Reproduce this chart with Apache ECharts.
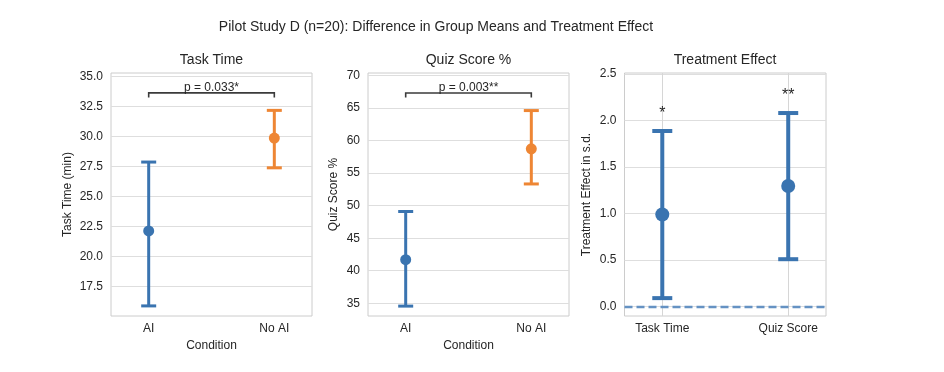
<!DOCTYPE html>
<html>
<head>
<meta charset="utf-8">
<script src="https://cdn.jsdelivr.net/npm/echarts@6/dist/echarts.min.js"></script>
<style>html,body{margin:0;padding:0;background:#fff}#c{width:944px;height:372px}</style>
</head>
<body>
<div id="c"></div>
<script>
// ---- data ----
const suptitle = 'Pilot Study D (n=20): Difference in Group Means and Treatment Effect';
const groupCats = ['AI', 'No AI'];
const groupColors = ['#3a74b0', '#ee8634'];

const taskMean = [22.14, 29.87];
const taskLow  = [15.90, 27.39];
const taskHigh = [27.87, 32.17];
const taskP = 'p = 0.033*';
const taskTicks = [17.5, 20.0, 22.5, 25.0, 27.5, 30.0, 32.5, 35.0];

const quizMean = [41.70, 58.72];
const quizLow  = [34.57, 53.33];
const quizHigh = [49.10, 64.60];
const quizP = 'p = 0.003**';
const quizTicks = [35, 40, 45, 50, 55, 60, 65, 70];

const effectCats = ['Task Time', 'Quiz Score'];
const effectMean = [0.99, 1.296];
const effectLow  = [0.092, 0.51];
const effectHigh = [1.887, 2.08];
const effectStars = ['*', '**'];
const effectTicks = [0.0, 0.5, 1.0, 1.5, 2.0, 2.5];

// ---- styling helpers ----
const FONT = "'Liberation Sans', Arial, sans-serif";
const TXT = '#262626';
const effectColor = '#3a74b0';

const grids = [
  {left: 111, top: 73, width: 201, height: 243},
  {left: 368, top: 73, width: 201, height: 243},
  {left: 624.5, top: 73, width: 201.5, height: 243}
];
grids.forEach(g => { g.show = true; g.borderColor = '#cccccc'; g.borderWidth = 1; g.backgroundColor = 'transparent'; });

function xAxisFor(i, cats, name, vgrid) {
  return {
    type: 'value', gridIndex: i, min: -0.3, max: 1.3,
    name: name, nameLocation: 'middle', nameGap: 22,
    nameTextStyle: {fontFamily: FONT, fontSize: 12, color: TXT},
    axisLine: {show: false},
    axisTick: {show: false, customValues: [0, 1]},
    axisLabel: {customValues: [0, 1], formatter: v => cats[Math.round(v)], fontFamily: FONT, fontSize: 12, color: TXT, margin: 7},
    splitLine: {show: vgrid, lineStyle: {color: '#d6d6d6', width: 1}}
  };
}
function yAxisFor(i, min, max, ticks, name, gap, dec) {
  return {
    type: 'value', gridIndex: i, min: min, max: max,
    name: name, nameLocation: 'middle', nameGap: gap,
    nameTextStyle: {fontFamily: FONT, fontSize: 12, color: TXT},
    axisLine: {show: false},
    axisTick: {show: false, customValues: ticks},
    axisLabel: {customValues: ticks, formatter: v => v.toFixed(dec), fontFamily: FONT, fontSize: 12, color: TXT, margin: 8},
    splitLine: {show: true, lineStyle: {color: '#dedede', width: 1}}
  };
}

function errorBars(i, low, high, colors, capHalf, lw) {
  return {
    type: 'custom', xAxisIndex: i, yAxisIndex: i, z: 3,
    data: low.map((l, k) => [k, l, high[k]]),
    encode: {x: 0, y: [1, 2]},
    renderItem: (params, api) => {
      const x = api.value(0);
      const lo = api.coord([x, api.value(1)]);
      const hi = api.coord([x, api.value(2)]);
      const st = {stroke: colors[params.dataIndex], lineWidth: lw, lineCap: 'butt'};
      return {type: 'group', children: [
        {type: 'line', shape: {x1: lo[0], y1: lo[1], x2: hi[0], y2: hi[1]}, style: st},
        {type: 'line', shape: {x1: lo[0] - capHalf, y1: lo[1], x2: lo[0] + capHalf, y2: lo[1]}, style: st},
        {type: 'line', shape: {x1: hi[0] - capHalf, y1: hi[1], x2: hi[0] + capHalf, y2: hi[1]}, style: st}
      ]};
    }
  };
}
function meanPoints(i, mean, colors, size) {
  return {
    type: 'scatter', xAxisIndex: i, yAxisIndex: i, z: 4, symbolSize: size,
    data: mean.map((m, k) => ({value: [k, m], itemStyle: {color: colors[k], opacity: 1}})),
    emphasis: {disabled: true}
  };
}
function bracket(i, high, span, text) {
  const y = Math.max(...high) + 0.072 * span;
  return {
    type: 'custom', xAxisIndex: i, yAxisIndex: i, z: 5,
    data: [[0, 1, y]],
    encode: {x: [0, 1], y: 2},
    renderItem: (params, api) => {
      const a = api.coord([api.value(0), api.value(2)]);
      const b = api.coord([api.value(1), api.value(2)]);
      return {type: 'group', children: [
        {type: 'polyline', shape: {points: [[a[0], a[1] + 4.5], [a[0], a[1]], [b[0], b[1]], [b[0], b[1] + 4.5]]},
         style: {stroke: '#3b3b3b', lineWidth: 1.6, fill: null}},
        {type: 'text', x: (a[0] + b[0]) / 2, y: a[1] + 0.5,
         style: {text: text, fill: TXT, font: '12px ' + FONT, align: 'center', verticalAlign: 'bottom'}}
      ]};
    }
  };
}

const taskMin = 15.06, taskMax = 35.28;
const quizMin = 33.05, quizMax = 70.37;
const effMin = -0.1, effMax = 2.51;

const option = {
  backgroundColor: '#ffffff',
  animation: false,
  title: [
    {text: suptitle, left: 436, top: 20, textAlign: 'center', padding: 0, textStyle: {fontFamily: FONT, fontSize: 14, fontWeight: 'normal', color: TXT}},
    {text: 'Task Time', left: 211.5, top: 53, textAlign: 'center', padding: 0, textStyle: {fontFamily: FONT, fontSize: 14, fontWeight: 'normal', color: TXT}},
    {text: 'Quiz Score %', left: 468.5, top: 53, textAlign: 'center', padding: 0, textStyle: {fontFamily: FONT, fontSize: 14, fontWeight: 'normal', color: TXT}},
    {text: 'Treatment Effect', left: 725, top: 53, textAlign: 'center', padding: 0, textStyle: {fontFamily: FONT, fontSize: 14, fontWeight: 'normal', color: TXT}}
  ],
  grid: grids,
  xAxis: [
    xAxisFor(0, groupCats, 'Condition', false),
    xAxisFor(1, groupCats, 'Condition', false),
    xAxisFor(2, effectCats, '', true)
  ],
  yAxis: [
    yAxisFor(0, taskMin, taskMax, taskTicks, 'Task Time (min)', 37, 1),
    yAxisFor(1, quizMin, quizMax, quizTicks, 'Quiz Score %', 28, 0),
    yAxisFor(2, effMin, effMax, effectTicks, 'Treatment Effect in s.d.', 31.5, 1)
  ],
  series: [
    errorBars(0, taskLow, taskHigh, groupColors, 7.5, 3),
    meanPoints(0, taskMean, groupColors, 11),
    bracket(0, taskHigh, taskMax - taskMin, taskP),
    errorBars(1, quizLow, quizHigh, groupColors, 7.5, 3),
    meanPoints(1, quizMean, groupColors, 11),
    bracket(1, quizHigh, quizMax - quizMin, quizP),
    errorBars(2, effectLow, effectHigh, [effectColor, effectColor], 10, 4),
    Object.assign(meanPoints(2, effectMean, [effectColor, effectColor], 14), {
      markLine: {silent: true, symbol: 'none', label: {show: false},
        lineStyle: {color: '#6592c3', type: [8, 4], width: 2.3},
        data: [{yAxis: 0}]}
    }),
    {
      type: 'custom', xAxisIndex: 2, yAxisIndex: 2, z: 5,
      data: effectHigh.map((h, k) => [k, h]),
      encode: {x: 0, y: 1},
      renderItem: (params, api) => {
        const p = api.coord([api.value(0), api.value(1) + 0.1]);
        return {type: 'text', x: p[0], y: p[1],
          style: {text: effectStars[params.dataIndex], fill: TXT, font: '16px ' + FONT, align: 'center', verticalAlign: 'bottom'}};
      }
    }
  ]
};
const chart = echarts.init(document.getElementById('c'), null, {renderer: 'canvas'});
chart.setOption(option);
</script>
</body>
</html>
